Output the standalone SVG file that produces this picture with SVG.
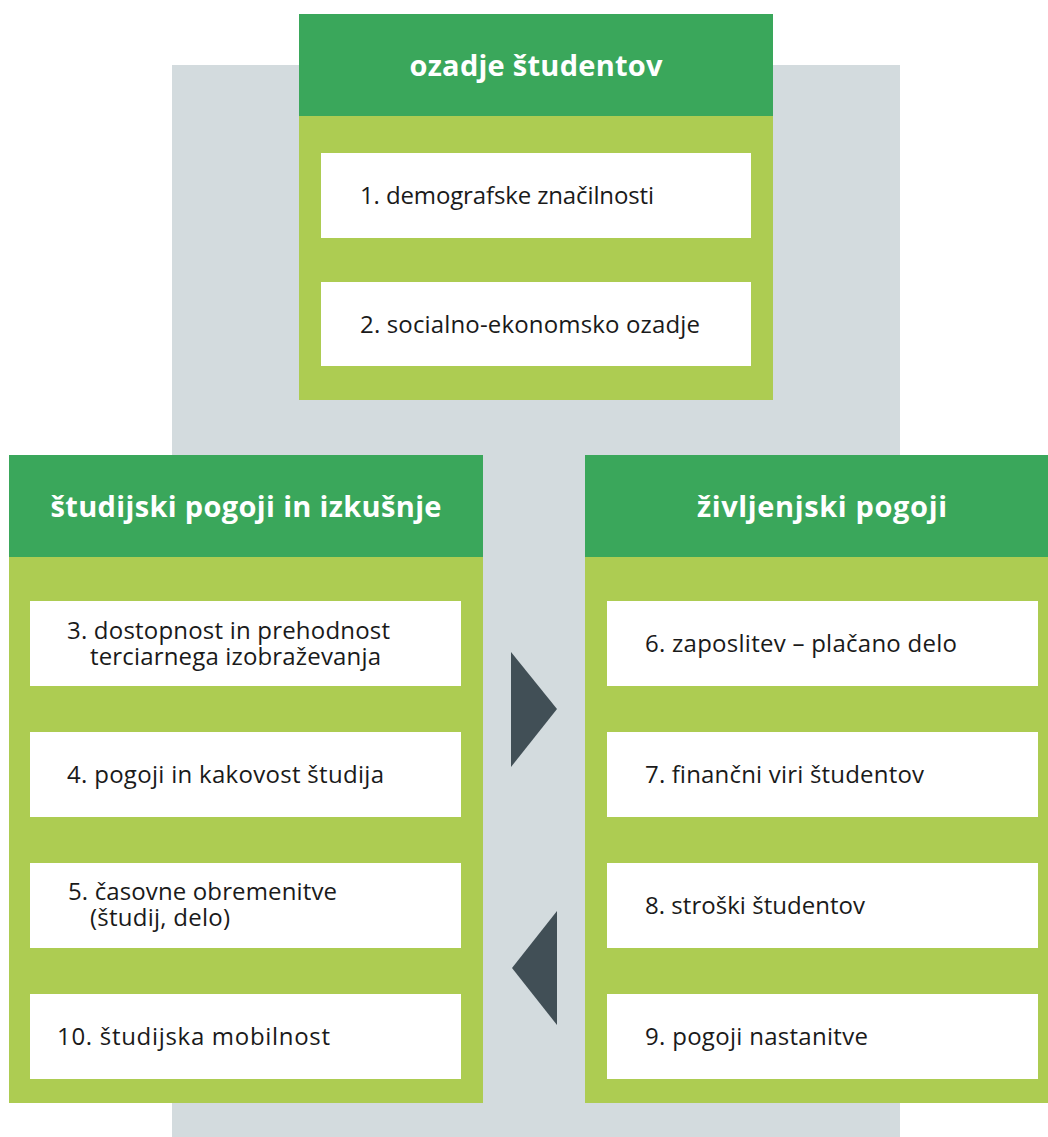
<svg xmlns="http://www.w3.org/2000/svg" width="1048" height="1137" viewBox="0 0 1048 1137">
<style>
.bg{fill:#d3dbde}
.hd{fill:#3aa75b}
.bd{fill:#adcc52}
.wb{fill:#ffffff}
.arr{fill:#414f56}
.tt{font-family:"Open Sans","Liberation Sans",sans-serif;font-weight:bold;font-size:29px;fill:#ffffff;text-anchor:middle}
.tx{font-family:"Open Sans","Liberation Sans",sans-serif;font-size:24px;fill:#1a1a1a}
</style>
<rect width="1048" height="1137" fill="#ffffff"/>
<rect class="bg" x="172" y="65" width="728" height="1072"/>
<g id="node-ozadje">
<rect class="bd" x="299" y="14" width="474" height="386"/>
<rect class="hd" x="299" y="14" width="474" height="102"/>
<text class="tt" x="536" y="76" textLength="253" lengthAdjust="spacing">ozadje študentov</text>
<rect class="wb" x="321" y="153" width="430" height="85"/>
<text class="tx" x="360" y="204" textLength="294" lengthAdjust="spacing">1. demografske značilnosti</text>
<rect class="wb" x="321" y="282" width="430" height="84"/>
<text class="tx" x="360" y="333" textLength="340" lengthAdjust="spacing">2. socialno-ekonomsko ozadje</text>
</g>
<g id="node-studijski">
<rect class="bd" x="9" y="455" width="474" height="648"/>
<rect class="hd" x="9" y="455" width="474" height="102"/>
<text class="tt" x="246" y="517" textLength="391" lengthAdjust="spacing">študijski pogoji in izkušnje</text>
<rect class="wb" x="30" y="601" width="431" height="85"/>
<text class="tx" x="67" y="639" textLength="323" lengthAdjust="spacing">3. dostopnost in prehodnost</text>
<text class="tx" x="90" y="665" textLength="291" lengthAdjust="spacing">terciarnega izobraževanja</text>
<rect class="wb" x="30" y="732" width="431" height="85"/>
<text class="tx" x="67" y="783" textLength="317" lengthAdjust="spacing">4. pogoji in kakovost študija</text>
<rect class="wb" x="30" y="863" width="431" height="85"/>
<text class="tx" x="68" y="900" textLength="269" lengthAdjust="spacing">5. časovne obremenitve</text>
<text class="tx" x="90" y="926" textLength="140" lengthAdjust="spacing">(študij, delo)</text>
<rect class="wb" x="30" y="994" width="431" height="85"/>
<text class="tx" x="57" y="1045" textLength="273" lengthAdjust="spacing">10. študijska mobilnost</text>
</g>
<g id="node-zivljenjski">
<rect class="bd" x="585" y="455" width="474" height="648"/>
<rect class="hd" x="585" y="455" width="474" height="102"/>
<text class="tt" x="822" y="517" textLength="250" lengthAdjust="spacing">življenjski pogoji</text>
<rect class="wb" x="607" y="601" width="431" height="85"/>
<text class="tx" x="645" y="652" textLength="312" lengthAdjust="spacing">6. zaposlitev – plačano delo</text>
<rect class="wb" x="607" y="732" width="431" height="85"/>
<text class="tx" x="645" y="783" textLength="279" lengthAdjust="spacing">7. finančni viri študentov</text>
<rect class="wb" x="607" y="863" width="431" height="85"/>
<text class="tx" x="645" y="914" textLength="220" lengthAdjust="spacing">8. stroški študentov</text>
<rect class="wb" x="607" y="994" width="431" height="85"/>
<text class="tx" x="645" y="1045" textLength="223" lengthAdjust="spacing">9. pogoji nastanitve</text>
</g>
<g id="connectors">
<polygon class="arr" points="511,652 557,709 511,767"/>
<polygon class="arr" points="557,911 512,968 557,1025"/>
</g>
</svg>
